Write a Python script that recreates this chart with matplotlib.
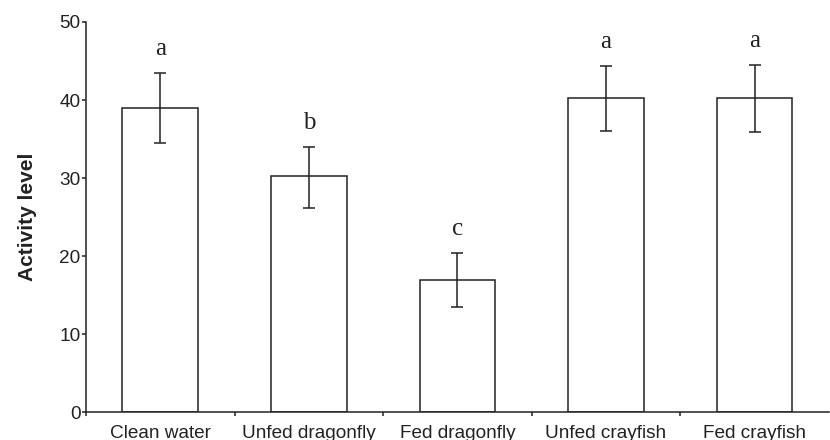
import matplotlib.pyplot as plt
import numpy as np

groups = ['Clean water', 'Unfed dragonfly', 'Fed dragonfly', 'Unfed crayfish', 'Fed crayfish']
activity = [39.0, 30.2, 16.9, 40.2, 40.2]
err_low = [34.5, 26.2, 13.4, 36.0, 35.9]
err_high = [43.5, 34.0, 20.4, 44.3, 44.5]
letters = ['a', 'b', 'c', 'a', 'a']

plt.rcParams['font.family'] = ['Liberation Sans', 'DejaVu Sans']
ink = '#222222'

fig = plt.figure(figsize=(8.3, 4.4), dpi=100)
ax = fig.add_axes([0.1036, 0.0636, 0.895, 0.8864])

x = np.arange(len(groups))
yerr = [np.array(activity) - np.array(err_low), np.array(err_high) - np.array(activity)]
ax.bar(x, activity, width=0.51, color='white', edgecolor=ink, linewidth=1.1, zorder=2)
ax.errorbar(x, activity, yerr=yerr, fmt='none', ecolor=ink, elinewidth=1.1,
            capsize=4.3, capthick=1.1, zorder=3)

for xi, top, lab in zip(x, err_high, letters):
    ax.text(xi, top + 3.1, lab, ha='center', va='center', fontsize=18,
            family='Liberation Serif', color=ink)

ax.set_xlim(-0.5, len(groups) - 0.5)
ax.set_ylim(0, 50)
ax.set_yticks(range(0, 51, 10))
ax.set_xticks(np.arange(-0.5, len(groups) - 0.5, 1.0))
ax.set_xticklabels([])
ax.set_xticks(x, minor=True)
ax.set_xticklabels(groups, minor=True)
ax.tick_params(axis='x', which='major', direction='out', length=3, width=1.1, color=ink)
ax.tick_params(axis='x', which='minor', length=0, pad=9, labelsize=13.7, labelcolor=ink)
ax.tick_params(axis='y', direction='out', length=3, width=1.1, color=ink, pad=1,
               labelsize=13.7, labelcolor=ink)

for side in ['top', 'right']:
    ax.spines[side].set_visible(False)
for side in ['left', 'bottom']:
    ax.spines[side].set_linewidth(1.1)
    ax.spines[side].set_color(ink)

ax.set_ylabel('Activity level', fontsize=15, fontweight='bold', color=ink, labelpad=16)

plt.savefig('out.png', dpi=100)
